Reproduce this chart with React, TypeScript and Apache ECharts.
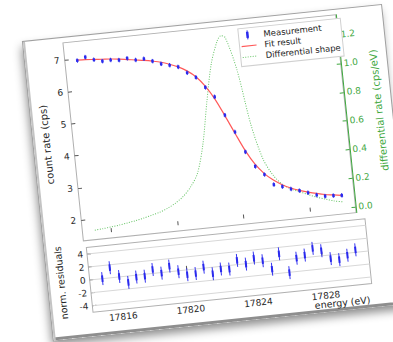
import React, { useEffect, useRef } from "react";
import * as echarts from "echarts";

// ---- data ----
const energies = [17815, 17815.5, 17816, 17816.5, 17817, 17817.5, 17818, 17818.5, 17819, 17819.5, 17820, 17820.5, 17821, 17821.5, 17822, 17822.5, 17823, 17823.5, 17824, 17824.5, 17825, 17825.5, 17826, 17826.5, 17827, 17827.5, 17828, 17828.5, 17829, 17829.5, 17830];
const countRate = [6.94, 7.02, 6.91, 6.84, 6.85, 6.82, 6.85, 6.77, 6.78, 6.68, 6.57, 6.5, 6.42, 6.21, 6.04, 5.7, 5.38, 4.78, 4.23, 3.58, 3.1, 2.82, 2.48, 2.39, 2.29, 2.21, 2.12, 2.02, 1.96, 1.95, 1.93];
const fitRate = [6.95, 6.94, 6.92, 6.9, 6.88, 6.85, 6.81, 6.77, 6.73, 6.68, 6.62, 6.53, 6.42, 6.27, 6.06, 5.74, 5.31, 4.76, 4.18, 3.62, 3.17, 2.85, 2.62, 2.45, 2.32, 2.22, 2.14, 2.07, 2.01, 1.97, 1.93];
const shapeEnergies = [17815, 17815.5, 17816, 17816.5, 17817, 17817.5, 17818, 17818.5, 17819, 17819.5, 17820, 17820.5, 17821, 17821.5, 17822, 17822.5, 17823, 17823.5, 17823.75, 17824, 17824.5, 17825, 17825.5, 17826, 17826.5, 17827, 17827.5, 17828, 17828.5, 17829, 17829.5, 17830];
const shapeRate = [0.025, 0.03, 0.036, 0.043, 0.052, 0.062, 0.074, 0.088, 0.103, 0.125, 0.155, 0.195, 0.255, 0.345, 0.54, 0.83, 1.09, 1.245, 1.277, 1.26, 1.03, 0.64, 0.4, 0.28, 0.21, 0.17, 0.145, 0.118, 0.095, 0.075, 0.057, 0.045];
const residuals = [0.0, 1.55, 0.05, -1.0, -0.3, -0.3, 0.6, -0.1, 0.85, -0.15, -0.75, -0.7, 0.15, -1.0, -0.4, -0.55, 0.65, -0.05, 0.75, 0.2, -1.25, 1.0, -2.05, 0.05, 0.4, 1.3, 0.8, -0.55, -0.85, -0.3, 0.4];
const countErr = 0.07;
const residErr = 1;
const xTicks = [17816, 17820, 17824, 17828];
const countTicks = [2, 3, 4, 5, 6, 7];
const diffTicks = [0, 0.2, 0.4, 0.6, 0.8, 1.0, 1.2];
const residTicks = [-4, -2, 0, 2, 4];

const BLUE = "#2a2aee";
const RED = "#ff5a5a";
const GREEN = "#66c466";
const AXGREEN = "#3fa83f";
const FRAME = "#b0b0b0";
const FONT = "DejaVu Sans";
const TXT = "#262626";

function errRender(err: number, mark: number, mw: number) {
  return (params: any, api: any) => {
    const x = api.value(0);
    const y = api.value(1);
    const c = api.coord([x, y]);
    const t = api.coord([x, y + err]);
    const b = api.coord([x, y - err]);
    const mt = api.coord([x, y + mark]);
    const mb = api.coord([x, y - mark]);
    return {
      type: "group",
      children: [
        { type: "line", shape: { x1: c[0], y1: t[1], x2: c[0], y2: b[1] }, style: { stroke: BLUE, lineWidth: 0.9 } },
        { type: "rect", shape: { x: c[0] - mw / 2, y: mt[1], width: mw, height: Math.max(2, mb[1] - mt[1]) }, style: { fill: BLUE } },
      ],
    };
  };
}

export default function App() {
  const ref = useRef<HTMLDivElement>(null);
  useEffect(() => {
    if (!ref.current) return;
    const chart = echarts.init(ref.current, undefined, { renderer: "svg" });
    const xMin = 17814.25;
    const xMax = 17830.75;
    const tickStyle = { inside: true, length: 4, lineStyle: { color: "#555" } };
    chart.setOption({
      animation: false,
      textStyle: { fontFamily: FONT },
      grid: [
        { left: 26, top: 5, width: 296, height: 199, show: true, borderColor: FRAME, borderWidth: 1, backgroundColor: "transparent" },
        { left: 26, top: 211, width: 296, height: 65, show: true, borderColor: FRAME, borderWidth: 1, backgroundColor: "transparent" },
      ],
      xAxis: [
        {
          gridIndex: 0, type: "value", min: xMin, max: xMax,
          axisLine: { show: false }, splitLine: { show: false },
          axisTick: { ...tickStyle, customValues: xTicks },
          axisLabel: { show: false },
        },
        {
          gridIndex: 1, type: "value", min: xMin, max: xMax,
          axisLine: { show: false }, splitLine: { show: false },
          axisTick: { ...tickStyle, customValues: xTicks },
          axisLabel: { customValues: xTicks, fontSize: 9, color: TXT, margin: 3, fontFamily: FONT, formatter: (v: number) => String(v) },
        },
      ],
      yAxis: [
        {
          gridIndex: 0, type: "value", min: 1.35, max: 7.53, position: "left",
          axisLine: { show: false }, splitLine: { show: false },
          axisTick: { ...tickStyle, customValues: countTicks },
          axisLabel: { customValues: countTicks, fontSize: 9, color: TXT, margin: 5, fontFamily: FONT },
          name: "count rate (cps)", nameLocation: "middle", nameGap: 12,
          nameTextStyle: { fontSize: 10, color: TXT, fontFamily: FONT },
        },
        {
          gridIndex: 0, type: "value", min: -0.04, max: 1.34, position: "right",
          axisLine: { show: true, lineStyle: { color: AXGREEN, width: 1 } }, splitLine: { show: false },
          axisTick: { inside: true, length: 4, lineStyle: { color: AXGREEN }, customValues: diffTicks },
          axisLabel: { customValues: diffTicks, fontSize: 9, color: AXGREEN, margin: 3, fontFamily: FONT, formatter: (v: number) => v.toFixed(1) },
          name: "differential rate (cps/eV)", nameLocation: "middle", nameGap: 22,
          nameTextStyle: { fontSize: 10, color: AXGREEN, fontFamily: FONT },
        },
        {
          gridIndex: 1, type: "value", min: -5, max: 5, position: "left",
          axisLine: { show: false }, splitLine: { show: false },
          axisTick: { ...tickStyle, customValues: residTicks },
          axisLabel: { customValues: residTicks, fontSize: 9, color: TXT, margin: 4, fontFamily: FONT },
          name: "norm. residuals", nameLocation: "middle", nameGap: 14,
          nameTextStyle: { fontSize: 9.5, color: TXT, fontFamily: FONT },
        },
      ],
      graphic: [
        { type: "rect", shape: { x: 215, y: 9, width: 103, height: 38 }, style: { fill: "#fff", stroke: "#d0d0d0", lineWidth: 1 }, z: 100 },
        { type: "line", shape: { x1: 224, y1: 11.5, x2: 224, y2: 20.5 }, style: { stroke: BLUE, lineWidth: 1 }, z: 101 },
        { type: "rect", shape: { x: 222.75, y: 13, width: 2.5, height: 6 }, style: { fill: BLUE }, z: 101 },
        { type: "text", x: 240, y: 16.5, style: { text: "Measurement", fontSize: 8.5, fontFamily: FONT, fill: TXT, verticalAlign: "middle" }, z: 101 },
        { type: "line", shape: { x1: 217, y1: 27, x2: 232, y2: 27 }, style: { stroke: RED, lineWidth: 1.2 }, z: 101 },
        { type: "text", x: 240, y: 27, style: { text: "Fit result", fontSize: 8.5, fontFamily: FONT, fill: TXT, verticalAlign: "middle" }, z: 101 },
        { type: "line", shape: { x1: 217, y1: 38, x2: 232, y2: 38 }, style: { stroke: GREEN, lineWidth: 1, lineDash: [1, 1.5] }, z: 101 },
        { type: "text", x: 240, y: 38, style: { text: "Differential shape", fontSize: 8.5, fontFamily: FONT, fill: TXT, verticalAlign: "middle" }, z: 101 },
        { type: "text", x: 319, y: 292, style: { text: "energy (eV)", fontSize: 9.5, fontFamily: FONT, fill: TXT, align: "right", verticalAlign: "middle" } },
      ],
      series: [
        {
          type: "line", name: "Differential shape", xAxisIndex: 0, yAxisIndex: 1,
          data: shapeEnergies.map((e, i) => [e, shapeRate[i]]),
          showSymbol: false, smooth: 0.3,
          lineStyle: { color: GREEN, width: 1, type: [1, 1.5] }, z: 2,
        },
        {
          type: "line", name: "Fit result", xAxisIndex: 0, yAxisIndex: 0,
          data: energies.map((e, i) => [e, fitRate[i]]),
          showSymbol: false, smooth: 0.3,
          lineStyle: { color: RED, width: 1.2 }, z: 3,
        },
        {
          type: "custom", name: "Measurement", xAxisIndex: 0, yAxisIndex: 0,
          data: energies.map((e, i) => [e, countRate[i]]),
          encode: { x: 0, y: 1 },
          renderItem: errRender(countErr, 0.045, 2.5), z: 4,
        },
        {
          type: "custom", name: "grid", xAxisIndex: 1, yAxisIndex: 2,
          data: residTicks.map((t) => [xTicks[0], t]),
          encode: { x: 0, y: 1 },
          renderItem: (params: any, api: any) => {
            const p = api.coord([api.value(0), api.value(1)]);
            const cs = params.coordSys;
            return { type: "line", shape: { x1: cs.x, y1: p[1], x2: cs.x + cs.width, y2: p[1] }, style: { stroke: "#d8d8d8", lineWidth: 1 } };
          },
          z: 1,
        },
        {
          type: "custom", name: "Residuals", xAxisIndex: 1, yAxisIndex: 2,
          data: energies.map((e, i) => [e, residuals[i]]),
          encode: { x: 0, y: 1 },
          renderItem: errRender(residErr, 0.5, 2), z: 4,
        },
      ],
    });
    return () => chart.dispose();
  }, []);

  return (
    <div style={{ position: "absolute", left: 0, top: 0, width: 393, height: 342, overflow: "hidden", background: "#fff" }}>
      <div
        style={{
          position: "absolute", left: 23, top: 42, width: 360, height: 300,
          transform: "rotate(-5.9deg)", transformOrigin: "0 0",
          background: "#fff",
          boxShadow: "0 0 0 1px #a0a0a0, inset 2px 0 0 #c4c4c4, inset 0 -3px 0 #8e8e8e, -2px 5px 10px rgba(0,0,0,0.45)",
        }}
      >
        <div ref={ref} style={{ position: "absolute", left: 0, top: 0, width: 360, height: 300 }} />
      </div>
    </div>
  );
}
